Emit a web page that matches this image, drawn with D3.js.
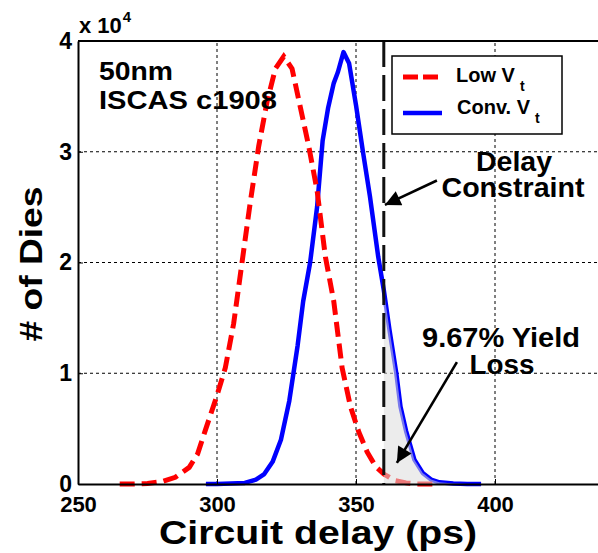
<!DOCTYPE html>
<html>
<head>
<meta charset="utf-8">
<script src="https://cdn.jsdelivr.net/npm/d3@7"></script>
<style>
  html, body { margin: 0; padding: 0; background: #fff; }
  svg { display: block; }
  text { font-family: "Liberation Sans", Arial, Helvetica, sans-serif; font-weight: bold; fill: #000; }
</style>
</head>
<body>
<svg id="chart" width="598" height="553"></svg>
<script>
// ---- data (delay in ps, count in units of 1e4) ----
const lowVtDelay  = [265, 270, 275, 280, 285, 290, 293, 296, 300, 303, 306, 309, 312, 315, 318, 321, 324, 327, 330, 333, 336, 339, 342, 345, 348, 351, 354, 357, 360, 364, 368, 372, 378];
const lowVtCount  = [0, 0, 0.005, 0.02, 0.06, 0.15, 0.27, 0.5, 0.8, 1.05, 1.45, 2.0, 2.55, 3.05, 3.45, 3.75, 3.86, 3.75, 3.4, 3.05, 2.65, 2.05, 1.65, 1.05, 0.7, 0.47, 0.29, 0.16, 0.09, 0.03, 0.01, 0, 0];
const convVtDelay = [296, 300, 305, 310, 314, 317, 320, 323, 326, 329, 331, 333.5, 336, 338, 340, 342, 343.5, 345.5, 347.5, 350, 352.5, 355, 358, 360, 362, 364.5, 366, 368, 371, 374, 377, 380, 385, 390, 395];
const convVtCount = [0, 0, 0.005, 0.01, 0.04, 0.09, 0.2, 0.4, 0.75, 1.25, 1.65, 2.0, 2.5, 3.1, 3.4, 3.62, 3.72, 3.9, 3.8, 3.42, 3.0, 2.6, 2.05, 1.75, 1.4, 1.0, 0.7, 0.48, 0.22, 0.1, 0.04, 0.015, 0.005, 0, 0];
const delayConstraint = 360;
const xTicks = [250, 300, 350, 400];
const yTicks = [0, 1, 2, 3, 4];
const xGrid = [300, 350, 400, 450];
const yGrid = [1, 2, 3];

const svg = d3.select("#chart");
svg.append("rect").attr("width", 598).attr("height", 553).attr("fill", "#fff");

const x = d3.scaleLinear().domain([250, 450]).range([78, 634]);
const y = d3.scaleLinear().domain([0, 4]).range([484, 41]);

// grid
const grid = svg.append("g");
grid.selectAll(".vg").data(xGrid).enter().append("line")
  .attr("x1", d => x(d)).attr("x2", d => x(d))
  .attr("y1", y(0)).attr("y2", y(4))
  .attr("stroke", "#000").attr("stroke-width", 1).attr("stroke-dasharray", "3,3");
grid.selectAll(".hg").data(yGrid).enter().append("line")
  .attr("x1", x(250)).attr("x2", x(450))
  .attr("y1", d => y(d)).attr("y2", d => y(d))
  .attr("stroke", "#000").attr("stroke-width", 1).attr("stroke-dasharray", "3,3");

// curves
const lowPts = lowVtDelay.map((d, i) => [d, lowVtCount[i]]);
const convPts = convVtDelay.map((d, i) => [d, convVtCount[i]]);
const line = d3.line().x(d => x(d[0])).y(d => y(d[1]));

svg.append("path").datum(convPts).attr("d", line)
  .attr("fill", "none").attr("stroke", "#0000ff").attr("stroke-width", 4.5)
  .attr("stroke-linejoin", "round");
svg.append("path").datum(lowPts).attr("d", line)
  .attr("fill", "none").attr("stroke", "#ff0000").attr("stroke-width", 5)
  .attr("stroke-dasharray", "15,7");

// shaded yield-loss region
const tail = convPts.filter(d => d[0] >= delayConstraint);
const area = d3.area().x(d => x(d[0])).y0(y(0)).y1(d => y(d[1]));
svg.append("path").datum(tail).attr("d", area)
  .attr("fill", "rgb(220,220,220)").attr("fill-opacity", 0.55);

// delay constraint line
svg.append("line")
  .attr("x1", x(delayConstraint)).attr("x2", x(delayConstraint))
  .attr("y1", y(4)).attr("y2", y(0))
  .attr("stroke", "#111").attr("stroke-width", 3).attr("stroke-dasharray", "26,8");

// axes
const xAxis = d3.axisBottom(x).tickValues(xTicks).tickFormat(d3.format("d"))
  .tickSizeInner(-5).tickSizeOuter(0).tickPadding(12);
const gx = svg.append("g").attr("transform", `translate(0,${y(0)})`).call(xAxis);
gx.select(".domain").attr("stroke", "#000").attr("stroke-width", 2);
gx.selectAll(".tick line").attr("stroke", "#000").attr("stroke-width", 1);
gx.selectAll(".tick text").attr("font-size", 22).attr("font-family", "Liberation Sans, Arial, sans-serif").attr("font-weight", "bold");

const yAxis = d3.axisLeft(y).tickValues(yTicks).tickFormat(d3.format("d"))
  .tickSizeInner(-5).tickSizeOuter(0).tickPadding(6);
const gy = svg.append("g").attr("transform", `translate(${x(250)},0)`).call(yAxis);
gy.select(".domain").attr("stroke", "#000").attr("stroke-width", 2);
gy.selectAll(".tick line").attr("stroke", "#000").attr("stroke-width", 1);
gy.selectAll(".tick text").attr("font-size", 23).attr("font-family", "Liberation Sans, Arial, sans-serif").attr("font-weight", "bold");

// top border
svg.append("line").attr("x1", x(250)).attr("x2", x(450)).attr("y1", y(4)).attr("y2", y(4))
  .attr("stroke", "#000").attr("stroke-width", 2);

// exponent label
const ex = svg.append("text").attr("x", 79).attr("y", 33).attr("font-size", 22);
ex.append("tspan").text("x 10");
ex.append("tspan").attr("font-size", 15).attr("dy", -11).attr("dx", 1).text("4");

// axis titles
svg.append("text").attr("x", 318).attr("y", 544).attr("text-anchor", "middle")
  .attr("font-size", 33).attr("textLength", 318).attr("lengthAdjust", "spacingAndGlyphs")
  .text("Circuit delay (ps)");
svg.append("text").attr("transform", "translate(42,264) rotate(-90)").attr("text-anchor", "middle")
  .attr("font-size", 31).attr("textLength", 155).attr("lengthAdjust", "spacingAndGlyphs")
  .text("# of Dies");

// annotation text
function label(txt, px, py, size, len, anchor) {
  const t = svg.append("text").attr("x", px).attr("y", py).attr("font-size", size)
    .attr("text-anchor", anchor || "start").text(txt);
  if (len) t.attr("textLength", len).attr("lengthAdjust", "spacingAndGlyphs");
  return t;
}
label("50nm", 99, 80, 26, 74);
label("ISCAS c1908", 99, 109, 26, 178);
label("Delay", 514, 171, 27, 76, "middle");
label("Constraint", 513, 197, 27, 143, "middle");
label("9.67% Yield", 501, 347, 27, 158, "middle");
label("Loss", 502, 374, 27, 65, "middle");

// arrows
const defs = svg.append("defs");
defs.append("marker").attr("id", "ah").attr("viewBox", "0 0 10 10")
  .attr("refX", 10).attr("refY", 5).attr("markerWidth", 7).attr("markerHeight", 6)
  .attr("markerUnits", "strokeWidth").attr("orient", "auto")
  .append("path").attr("d", "M0,0 L10,5 L0,10 z").attr("fill", "#000");
const arrows = [
  { from: [379.1, 2.74], to: [360.4, 2.52] },
  { from: [386.3, 1.10], to: [364.7, 0.19] }
];
arrows.forEach(a => {
  svg.append("line")
    .attr("x1", x(a.from[0])).attr("y1", y(a.from[1]))
    .attr("x2", x(a.to[0])).attr("y2", y(a.to[1]))
    .attr("stroke", "#000").attr("stroke-width", 2.6).attr("marker-end", "url(#ah)");
});

// legend
const lg = svg.append("g");
lg.append("rect").attr("x", 392).attr("y", 56).attr("width", 170).attr("height", 78)
  .attr("fill", "#fff").attr("stroke", "#000").attr("stroke-width", 1.5);
lg.append("line").attr("x1", 403).attr("x2", 438).attr("y1", 77).attr("y2", 77)
  .attr("stroke", "#ff0000").attr("stroke-width", 5).attr("stroke-dasharray", "15,5");
lg.append("line").attr("x1", 403).attr("x2", 442).attr("y1", 113).attr("y2", 113)
  .attr("stroke", "#0000ff").attr("stroke-width", 4.5);
const l1 = lg.append("text").attr("x", 456).attr("y", 82).attr("font-size", 20);
l1.append("tspan").text("Low V");
l1.append("tspan").attr("font-size", 14).attr("dx", 5).attr("dy", 9).text("t");
const l2 = lg.append("text").attr("x", 457).attr("y", 114).attr("font-size", 20);
l2.append("tspan").text("Conv. V");
l2.append("tspan").attr("font-size", 14).attr("dx", 5).attr("dy", 9).text("t");
</script>
</body>
</html>
